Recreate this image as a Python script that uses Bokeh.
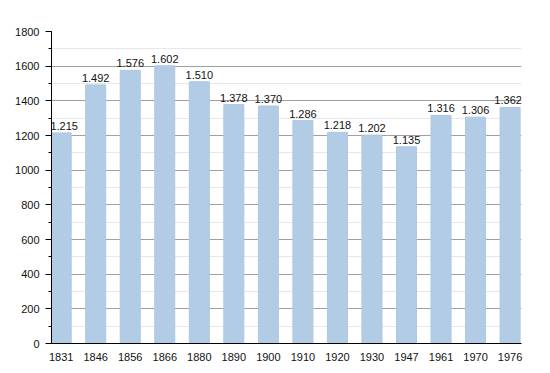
from bokeh.plotting import figure
from bokeh.models import ColumnDataSource, FixedTicker, SingleIntervalTicker, Range1d, Label
from bokeh.embed import file_html
from bokeh.resources import INLINE

years = ["1831", "1846", "1856", "1866", "1880", "1890", "1900", "1910",
         "1920", "1930", "1947", "1961", "1970", "1976"]
population = [1215, 1492, 1576, 1602, 1510, 1378, 1370, 1286,
              1218, 1202, 1135, 1316, 1306, 1362]

xs = list(range(len(years)))
labels = [f"{v:,}".replace(",", ".") for v in population]
src = ColumnDataSource(dict(x=xs, y=population, lab=labels))

p = figure(width=550, height=373, output_backend="svg", toolbar_location=None,
           x_range=Range1d(-0.28, 13.33), y_range=Range1d(0, 1800),
           min_border_left=51, min_border_right=29, min_border_top=31,
           min_border_bottom=30)
p.outline_line_color = None
p.background_fill_color = "white"

p.vbar(x="x", top="y", width=0.58, source=src, fill_color="#b3cce6",
       line_color="#aec7e0", line_width=1)

font = "Liberation Sans"
n = len(xs)
for i, (xv, yv, lab) in enumerate(zip(xs, population, labels)):
    off = 3 if i == 0 else (-2 if i == n - 1 else 0)
    p.add_layout(Label(x=xv, y=yv, text=lab, text_align="center",
                       text_baseline="bottom", y_offset=3, x_offset=off,
                       text_font=font, text_font_size="11px",
                       text_color="#111111"))

p.yaxis.ticker = SingleIntervalTicker(interval=200, num_minor_ticks=2)
p.yaxis.axis_line_color = "black"
p.yaxis.major_tick_line_color = "black"
p.yaxis.minor_tick_line_color = "black"
p.yaxis.major_tick_out = 6
p.yaxis.major_tick_in = 0
p.yaxis.minor_tick_out = 3
p.yaxis.minor_tick_in = 0
p.yaxis.major_label_text_font = font
p.yaxis.major_label_text_font_size = "11px"
p.yaxis.major_label_text_color = "#111111"
p.yaxis.major_label_standoff = 6

p.xaxis.ticker = FixedTicker(ticks=xs)
p.xaxis.major_label_overrides = {i: y for i, y in zip(xs, years)}
p.xaxis.axis_line_color = "black"
p.xaxis.major_tick_line_color = None
p.xaxis.minor_tick_line_color = None
p.xaxis.major_label_text_font = font
p.xaxis.major_label_text_font_size = "11px"
p.xaxis.major_label_text_color = "#111111"
p.xaxis.major_label_standoff = 3

p.xgrid.grid_line_color = None
p.ygrid.grid_line_color = "#a0a0a0"
p.ygrid.minor_grid_line_color = "#e8e8e8"
p.ygrid.level = "underlay"

open("out.html", "w").write(file_html(p, INLINE))
